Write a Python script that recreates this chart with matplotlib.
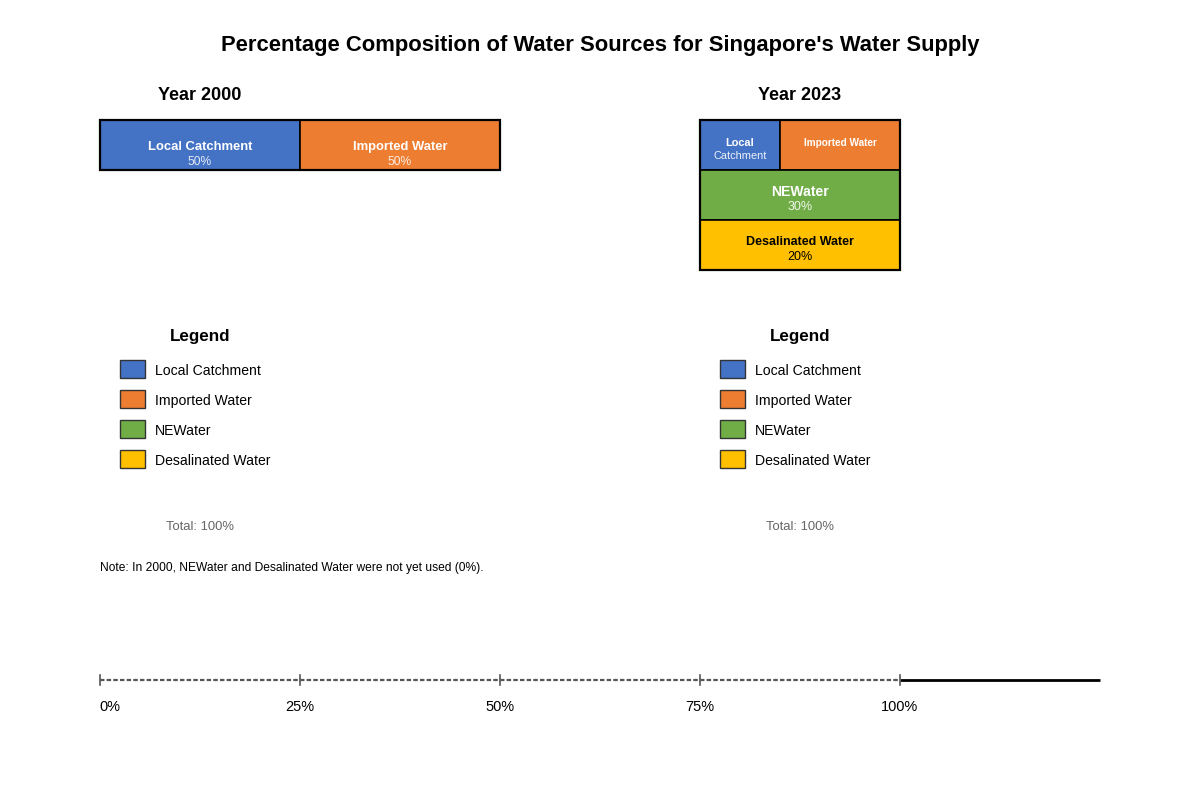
#!/usr/bin/env python3
"""Singapore water supply composition, 2000 vs 2023"""

import matplotlib.pyplot as plt
from matplotlib.patches import Rectangle

plt.rcParams['font.family'] = ['Liberation Sans', 'DejaVu Sans']

# data
sources = ["Local Catchment", "Imported Water", "NEWater", "Desalinated Water"]
colors = ["#4472C4", "#ED7D31", "#70AD47", "#FFC000"]
share_2000 = [50, 50, 0, 0]
share_2023 = [20, 30, 30, 20]
axis_ticks = [0, 25, 50, 75, 100]
axis_labels = ["0%", "25%", "50%", "75%", "100%"]

PX = 0.72  # px -> pt at dpi 100
DY = 2     # nudge text down so its visual centre sits on the target line

fig = plt.figure(figsize=(12, 8), dpi=100)
ax = fig.add_axes([0, 0, 1, 1])
ax.set_xlim(0, 1200)
ax.set_ylim(800, 0)
ax.axis("off")


def label(x, y, s, **kw):
    kw.setdefault("ha", "center")
    ax.text(x, y + DY, s, va="center", **kw)


label(600, 43, "Percentage Composition of Water Sources for Singapore's Water Supply",
      fontsize=22 * PX, fontweight="bold")

# 2000: single horizontal strip, 400 px = 100%
label(200, 94, "Year 2000", fontsize=18 * PX, fontweight="bold")
x = 100
for name, val, c in zip(sources, share_2000, colors):
    if val == 0:
        continue
    w = val * 4
    ax.add_patch(Rectangle((x, 120), w, 50, facecolor=c, edgecolor="black", lw=1.2))
    label(x + w / 2, 145, name, color="white", fontsize=13 * PX, fontweight="bold")
    label(x + w / 2, 160, f"{val}%", color="white", alpha=0.85, fontsize=12 * PX)
    x += w
ax.add_patch(Rectangle((100, 120), 400, 50, fill=False, edgecolor="black", lw=1.6))

# 2023: top row shares local + imported, then one row per new source
label(800, 94, "Year 2023", fontsize=18 * PX, fontweight="bold")
top = share_2023[0] + share_2023[1]
x = 700
for i in range(2):
    w = 200 * share_2023[i] / top
    ax.add_patch(Rectangle((x, 120), w, 50, facecolor=colors[i], edgecolor="black", lw=1.2))
    x += w
lw0 = 200 * share_2023[0] / top
label(700 + lw0 / 2, 141, "Local", color="white", fontsize=11 * PX, fontweight="bold")
label(700 + lw0 / 2, 154, "Catchment", color="white", alpha=0.9, fontsize=11 * PX)
label(700 + lw0 + (200 - lw0) / 2, 141, "Imported Water", color="white",
      fontsize=10 * PX, fontweight="bold")
y = 170
for i, tc in zip([2, 3], ["white", "black"]):
    ax.add_patch(Rectangle((700, y), 200, 50, facecolor=colors[i], edgecolor="black", lw=1.2))
    label(800, y + 20, sources[i], color=tc,
          fontsize=(14 if i == 2 else 12.5) * PX, fontweight="bold")
    label(800, y + 35, f"{share_2023[i]}%", color=tc,
          alpha=0.9 if tc == "white" else 1, fontsize=12.5 * PX)
    y += 50
ax.add_patch(Rectangle((700, 120), 200, 150, fill=False, edgecolor="black", lw=1.6))

# legends + totals
for cx, shares in [(200, share_2000), (800, share_2023)]:
    label(cx, 335, "Legend", fontsize=17 * PX, fontweight="bold")
    for k, (name, c) in enumerate(zip(sources, colors)):
        yy = 360 + 30 * k
        ax.add_patch(Rectangle((cx - 80, yy), 25, 18, facecolor=c, edgecolor="#333333", lw=1))
        label(cx - 45, yy + 9, name, ha="left", fontsize=14 * PX)
    label(cx, 525, f"Total: {sum(shares)}%", color="#666666", fontsize=13 * PX)

label(100, 566, "Note: In 2000, NEWater and Desalinated Water were not yet used (0%).",
      ha="left", fontsize=12 * PX)

# percentage axis, 800 px = 100%
ax.plot([900, 1100], [680, 680], color="black", lw=2, solid_capstyle="butt")
ax.plot([100, 900], [680, 680], color="#555555", lw=1.6, ls=(0, (2, 1)))
for t, lab in zip(axis_ticks, axis_labels):
    px = 100 + t * 8
    ax.plot([px, px], [675, 685], color="#555555", lw=1.2)
    label(px + (10 if t == 0 else 0), 705, lab, fontsize=14.5 * PX)


def main() -> None:
    fig.savefig("out.png", dpi=100)


if __name__ == "__main__":
    main()
